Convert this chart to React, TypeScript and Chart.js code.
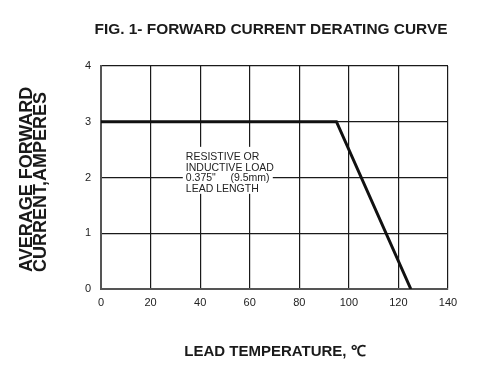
import React, { useEffect, useRef } from "react";
import { Chart, registerables } from "chart.js";

Chart.register(...registerables);

const temperatures = [0, 95, 125];
const currents = [3, 3, 0];
const xTicks = [0, 20, 40, 60, 80, 100, 120, 140];
const yTicks = [0, 1, 2, 3, 4];
const titleText = "FIG. 1- FORWARD CURRENT DERATING CURVE";
const yTitleLines = ["AVERAGE FORWARD", "CURRENT,AMPERES"];
const xTitleText = "LEAD TEMPERATURE, ℃";
const noteLines = ["RESISTIVE OR", "INDUCTIVE LOAD", "0.375\"     (9.5mm)", "LEAD LENGTH"];

const FONT = "'Liberation Sans', Arial, Helvetica, sans-serif";

const textPlugin = {
  id: "texts",
  afterDatasetsDraw(chart: any) {
    const ctx = chart.ctx;
    const xs = chart.scales.x;
    const ys = chart.scales.y;
    const bx = xs.getPixelForValue(33);
    const by = ys.getPixelForValue(2.55);
    ctx.save();
    ctx.fillStyle = "#ffffff";
    ctx.fillRect(bx, by, 90, 47);
    ctx.fillStyle = "#222";
    ctx.font = `10.5px ${FONT}`;
    ctx.textBaseline = "alphabetic";
    ctx.textAlign = "left";
    noteLines.forEach((l, i) => {
      ctx.fillText(l, bx + 3, by + 13 + i * 10.7);
    });
    ctx.restore();
  },
  afterDraw(chart: any) {
    const ctx = chart.ctx;
    ctx.save();
    ctx.fillStyle = "#1a1a1a";
    ctx.font = `bold 15.5px ${FONT}`;
    ctx.textAlign = "center";
    ctx.textBaseline = "middle";
    ctx.fillText(titleText, 271, 30, 353);
    ctx.font = `bold 15px ${FONT}`;
    ctx.fillText(xTitleText, 275, 352, 186);
    ctx.font = `bold 18px ${FONT}`;
    ctx.textAlign = "left";
    ctx.textBaseline = "middle";
    ctx.save();
    ctx.translate(27, 272);
    ctx.rotate(-Math.PI / 2);
    ctx.fillText(yTitleLines[0], 0, 0, 187);
    ctx.restore();
    ctx.save();
    ctx.translate(41, 272);
    ctx.rotate(-Math.PI / 2);
    ctx.fillText(yTitleLines[1], 0, 0, 182);
    ctx.restore();
    ctx.restore();
  },
};

export default function App() {
  const ref = useRef<HTMLCanvasElement | null>(null);
  useEffect(() => {
    if (!ref.current) return;
    const chart = new Chart(ref.current, {
      type: "line",
      data: {
        datasets: [
          {
            data: temperatures.map((t, i) => ({ x: t, y: currents[i] })),
            borderColor: "#111",
            borderWidth: 3,
            pointRadius: 0,
            fill: false,
            tension: 0,
          },
        ],
      },
      options: {
        animation: false,
        responsive: false,
        devicePixelRatio: 1,
        layout: { padding: { top: 66, right: 33, left: 0, bottom: 0 } },
        plugins: { legend: { display: false }, tooltip: { enabled: false }, title: { display: false } },
        scales: {
          x: {
            type: "linear",
            min: xTicks[0],
            max: xTicks[xTicks.length - 1],
            afterBuildTicks: (s: any) => {
              s.ticks = xTicks.map((v) => ({ value: v }));
            },
            afterFit: (s: any) => {
              s.height = 90;
            },
            ticks: { padding: 7, color: "#222", font: { family: FONT, size: 11 } },
            grid: { color: "#1a1a1a", lineWidth: 1.2, drawTicks: false },
            border: { color: "#555", width: 2 },
          },
          y: {
            type: "linear",
            min: yTicks[0],
            max: yTicks[yTicks.length - 1],
            afterBuildTicks: (s: any) => {
              s.ticks = yTicks.map((v) => ({ value: v }));
            },
            afterFit: (s: any) => {
              s.width = 101;
            },
            ticks: { padding: 10, color: "#222", font: { family: FONT, size: 11 } },
            grid: { color: "#1a1a1a", lineWidth: 1.2, drawTicks: false },
            border: { color: "#555", width: 2 },
          },
        },
      },
      plugins: [textPlugin],
    } as any);
    return () => chart.destroy();
  }, []);
  return (
    <div style={{ position: "absolute", left: 0, top: 0, width: 481, height: 379, background: "#fff" }}>
      <canvas ref={ref} width={481} height={379} style={{ width: 481, height: 379 }} />
    </div>
  );
}
